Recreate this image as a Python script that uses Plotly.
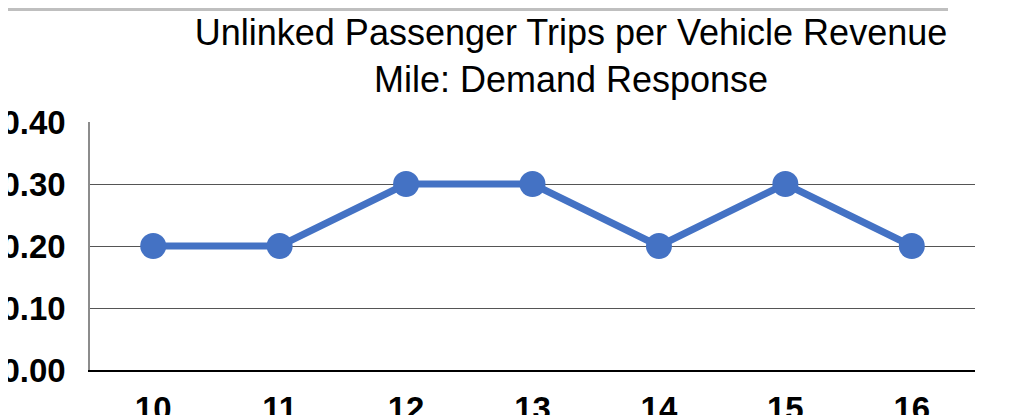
import plotly.graph_objects as go

categories = ["10", "11", "12", "13", "14", "15", "16"]
values = [0.20, 0.20, 0.30, 0.30, 0.20, 0.30, 0.20]
y_ticks = [0.0, 0.1, 0.2, 0.3, 0.4]
title_text = "Unlinked Passenger Trips per Vehicle Revenue<br>Mile: Demand Response"

# page offset of the plot div (default body margin)
OFF = 8
W, H = 1005, 407
# target plot area in page pixels: x 90..975, y 122..370
L = 90 - OFF
T = 122 - OFF
R = W - (975 - OFF)
B = H - (370 - OFF)
pw, ph = W - L - R, H - T - B

fig = go.Figure()
fig.add_trace(go.Scatter(
    x=categories, y=values, mode="lines+markers",
    line=dict(color="#4472C4", width=7),
    marker=dict(color="#4472C4", size=26),
    showlegend=False, cliponaxis=False,
))

def page_x(px):
    return (px - OFF - L) / pw

def page_y(py):
    return (H - B - (py - OFF)) / ph

# thin grey rule along the very top of the picture
fig.add_shape(type="rect", xref="paper", yref="paper",
              x0=page_x(OFF), x1=page_x(948),
              y0=page_y(OFF + 3), y1=page_y(OFF),
              fillcolor="#BFBFBF", line=dict(width=0), layer="above")

fig.update_layout(
    width=W, height=H,
    margin=dict(l=L, r=R, t=T, b=B, autoexpand=False),
    paper_bgcolor="white", plot_bgcolor="white",
    font=dict(family="Liberation Sans, Arial, sans-serif", color="black"),
    title=dict(text=title_text, x=(571 - OFF) / W, xanchor="center",
               y=1 - 37 / H, yanchor="top", yref="container",
               font=dict(size=36, color="black")),
)
fig.update_xaxes(
    type="category", range=[-0.5, 6.5],
    showline=True, linecolor="black", linewidth=1.5,
    showgrid=False, ticks="", ticklabelstandoff=9,
    tickfont=dict(size=33, weight="bold", color="black"),
    fixedrange=True,
)
fig.update_yaxes(
    range=[0, 0.4], tickvals=y_ticks, tickformat=".2f",
    showgrid=True, gridcolor="#555555", gridwidth=1,
    showline=True, linecolor="#8C8C8C", linewidth=1.5,
    zeroline=False, ticks="", ticklabelstandoff=16,
    tickfont=dict(size=33, weight="bold", color="black"),
    fixedrange=True,
)

fig.write_html("out.html")
